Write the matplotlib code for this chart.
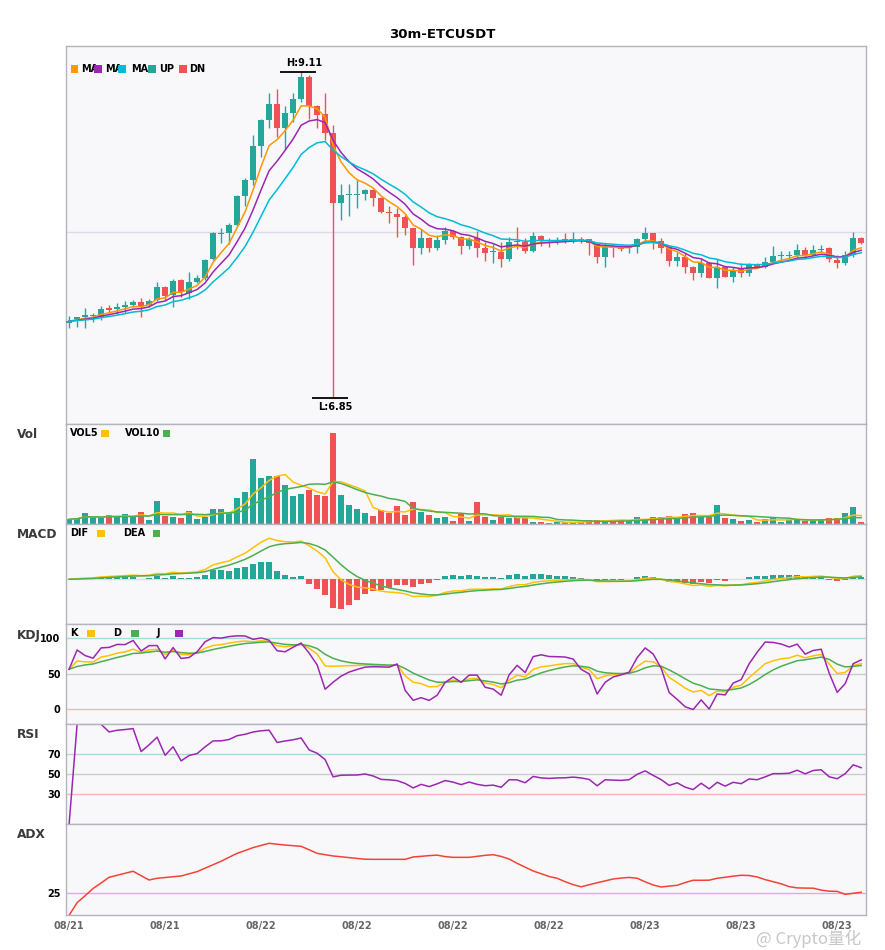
import numpy as np
import pandas as pd
import matplotlib
matplotlib.use("Agg")
import matplotlib.pyplot as plt
from matplotlib.patches import Rectangle

plt.rcParams['font.family'] = ['DejaVu Sans']

# 30m candles
opens = [7.372, 7.397, 7.408, 7.415, 7.413, 7.471, 7.464, 7.480, 7.494, 7.512,
         7.494, 7.529, 7.617, 7.563, 7.667, 7.575, 7.653, 7.679, 7.811, 7.989,
         7.996, 8.051, 8.252, 8.361, 8.597, 8.777, 8.888, 8.724, 8.828, 8.920,
         9.073, 8.874, 8.818, 8.685, 8.204, 8.258, 8.258, 8.264, 8.292, 8.238,
         8.139, 8.125, 8.107, 8.030, 7.892, 7.961, 7.892, 7.945, 8.009, 7.968,
         7.903, 7.956, 7.892, 7.862, 7.864, 7.815, 7.936, 7.929, 7.871, 7.973,
         7.945, 7.936, 7.954, 7.945, 7.952, 7.949, 7.917, 7.825, 7.899, 7.892,
         7.887, 7.899, 7.950, 7.991, 7.940, 7.887, 7.802, 7.829, 7.760, 7.718,
         7.783, 7.684, 7.760, 7.691, 7.742, 7.714, 7.776, 7.760, 7.792, 7.832,
         7.836, 7.838, 7.876, 7.841, 7.876, 7.889, 7.806, 7.788, 7.841, 7.956]
highs = [7.418, 7.413, 7.471, 7.441, 7.487, 7.494, 7.506, 7.524, 7.529, 7.543,
         7.538, 7.654, 7.626, 7.672, 7.672, 7.723, 7.702, 7.811, 8.003, 8.026,
         8.060, 8.259, 8.372, 8.673, 8.782, 8.962, 8.990, 8.874, 8.962, 9.110,
         9.089, 8.880, 8.962, 8.742, 8.333, 8.333, 8.361, 8.298, 8.298, 8.245,
         8.181, 8.164, 8.116, 8.030, 8.019, 7.968, 7.979, 8.037, 8.014, 7.973,
         7.968, 8.009, 7.933, 7.917, 7.933, 7.968, 8.037, 7.956, 8.003, 7.979,
         7.956, 7.968, 7.996, 8.003, 7.968, 7.954, 7.922, 7.922, 7.910, 7.910,
         7.903, 7.957, 8.037, 7.993, 7.957, 7.892, 7.864, 7.852, 7.765, 7.811,
         7.795, 7.811, 7.765, 7.760, 7.788, 7.783, 7.783, 7.829, 7.903, 7.871,
         7.871, 7.917, 7.899, 7.910, 7.910, 7.894, 7.841, 7.871, 8.003, 7.968]
lows = [7.335, 7.339, 7.332, 7.378, 7.390, 7.436, 7.432, 7.436, 7.478, 7.413,
        7.482, 7.524, 7.529, 7.482, 7.552, 7.533, 7.649, 7.667, 7.806, 7.922,
        7.917, 8.042, 8.183, 8.326, 8.523, 8.719, 8.661, 8.573, 8.765, 8.904,
        8.782, 8.722, 8.638, 6.850, 8.084, 8.111, 8.164, 8.223, 8.181, 8.130,
        8.060, 7.968, 7.979, 7.771, 7.848, 7.862, 7.875, 7.917, 7.949, 7.848,
        7.880, 7.829, 7.801, 7.788, 7.755, 7.801, 7.880, 7.852, 7.864, 7.903,
        7.899, 7.917, 7.926, 7.926, 7.926, 7.841, 7.788, 7.760, 7.829, 7.871,
        7.857, 7.857, 7.940, 7.883, 7.852, 7.765, 7.765, 7.714, 7.667, 7.686,
        7.679, 7.614, 7.686, 7.656, 7.691, 7.695, 7.748, 7.748, 7.783, 7.806,
        7.811, 7.825, 7.829, 7.834, 7.864, 7.795, 7.748, 7.772, 7.829, 7.917]
closes = [7.382, 7.411, 7.422, 7.424, 7.468, 7.462, 7.482, 7.494, 7.515, 7.482,
          7.524, 7.617, 7.556, 7.660, 7.582, 7.651, 7.679, 7.806, 7.991, 7.993,
          8.049, 8.250, 8.361, 8.597, 8.777, 8.888, 8.724, 8.828, 8.920, 9.073,
          8.874, 8.812, 8.684, 8.204, 8.257, 8.262, 8.264, 8.292, 8.238, 8.141,
          8.130, 8.107, 8.030, 7.892, 7.961, 7.892, 7.945, 8.009, 7.968, 7.903,
          7.949, 7.892, 7.857, 7.866, 7.815, 7.933, 7.929, 7.871, 7.973, 7.945,
          7.936, 7.943, 7.945, 7.954, 7.942, 7.922, 7.825, 7.894, 7.889, 7.885,
          7.892, 7.950, 7.991, 7.940, 7.887, 7.802, 7.829, 7.760, 7.718, 7.783,
          7.684, 7.760, 7.691, 7.737, 7.714, 7.772, 7.760, 7.795, 7.836, 7.836,
          7.841, 7.876, 7.838, 7.876, 7.885, 7.811, 7.788, 7.841, 7.956, 7.926]
volumes = [5.0, 6.0, 11.0, 7.7, 6.0, 9.3, 7.0, 10.3, 7.7, 12.3,
           4.3, 23.3, 8.3, 7.7, 6.0, 13.3, 5.3, 7.7, 15.3, 15.3,
           12.3, 26.3, 31.7, 65.3, 46.3, 48.3, 47.7, 39.3, 28.3, 30.3,
           34.3, 29.3, 28.3, 90.3, 29.3, 19.3, 15.3, 11.3, 8.3, 14.3,
           11.3, 18.3, 9.3, 22.3, 12.3, 9.3, 6.3, 7.3, 3.3, 10.3,
           3.3, 22.3, 7.3, 4.3, 7.7, 6.3, 7.7, 6.7, 2.3, 2.3,
           1.3, 2.3, 2.3, 2.3, 2.3, 4.3, 4.3, 4.3, 4.3, 4.3,
           3.3, 7.3, 5.3, 7.3, 7.3, 8.3, 6.3, 10.3, 11.3, 7.3,
           7.3, 19.3, 6.3, 5.3, 3.3, 4.3, 2.3, 5.3, 7.3, 2.3,
           5.3, 5.3, 3.3, 4.3, 4.3, 6.3, 6.3, 11.3, 17.3, 2.3]
# ADX line as drawn
adx_vals = [0, 13.9, 21.5, 29.5, 35.5, 41.8, 44.0, 46.2, 48.4, 43.5,
            38.8, 40.7, 41.5, 42.4, 43.2, 45.6, 48.0, 51.8, 55.6, 59.4,
            63.8, 68.1, 71.2, 74.4, 76.8, 79.1, 78.1, 77.2, 76.5, 75.8,
            72.0, 68.1, 66.6, 65.2, 64.3, 63.4, 62.5, 61.6, 61.5, 61.5,
            61.5, 61.5, 61.5, 64.1, 64.8, 65.6, 66.1, 64.5, 63.7, 63.7,
            63.7, 64.8, 65.9, 66.6, 64.7, 61.8, 57.1, 52.9, 48.7, 45.7,
            42.6, 40.7, 36.9, 33.7, 31.3, 33.6, 35.8, 37.8, 39.9, 40.9,
            41.6, 40.7, 36.8, 33.3, 31.1, 32.1, 33.0, 36.0, 38.5, 38.5,
            38.6, 40.7, 41.8, 43.0, 44.0, 43.7, 42.1, 39.2, 36.9, 34.6,
            31.5, 30.1, 29.9, 29.8, 27.7, 26.5, 26.3, 23.0, 24.2, 25.3]

tick_pos = [0, 12, 24, 36, 48, 60, 72, 84, 96]
tick_labels = ["08/21", "08/21", "08/22", "08/22", "08/22", "08/22", "08/23", "08/23", "08/23"]

UP = "#26a69a"
DN = "#ef5350"

df = pd.DataFrame({"open": opens, "high": highs, "low": lows, "close": closes, "vol": volumes})
x = np.arange(len(df))
c = df["close"]

# indicators
ma_a = c.ewm(span=5, adjust=False).mean()
ma_b = c.ewm(span=8, adjust=False).mean()
ma_c = c.ewm(span=13, adjust=False).mean()
vol5 = df["vol"].rolling(5, min_periods=1).mean()
vol10 = df["vol"].rolling(10, min_periods=1).mean()

dif = c.ewm(span=6, adjust=False).mean() - c.ewm(span=13, adjust=False).mean()
dea = dif.ewm(span=5, adjust=False).mean()
hist = 2 * (dif - dea)

ln = df["low"].rolling(9, min_periods=1).min()
hn = df["high"].rolling(9, min_periods=1).max()
rsv = (c - ln) / (hn - ln) * 100
k = rsv.ewm(com=2, adjust=False).mean()
d = k.ewm(com=2, adjust=False).mean()
j = 3 * k - 2 * d

delta = c.diff()
ag = delta.clip(lower=0).ewm(com=13).mean()
al = (-delta).clip(lower=0).ewm(com=13).mean()
rsi = (100 * ag / (ag + al)).fillna(0)

up = df["close"] >= df["open"]
colors = [UP if u else DN for u in up]

W, H = 885, 950
fig = plt.figure(figsize=(W / 100, H / 100), dpi=100)

def fx(px):
    return px / W

def fy(py):
    return 1 - py / H

left, right = 65.5, 866
rows = [(45.5, 424.3), (424.3, 524.3), (524.3, 624.3), (624.3, 724.3), (724.3, 824.3), (824.3, 915.3)]
axes = []
for top, bot in rows:
    a = fig.add_axes([fx(left), fy(bot), fx(right - left), (bot - top) / H],
                     sharex=axes[0] if axes else None)
    a.set_facecolor("#f8f8fb")
    for s in a.spines.values():
        s.set_color("#b4b4bc")
        s.set_linewidth(1)
    a.tick_params(length=0, labelsize=7)
    axes.append(a)
ax, axv, axm, axk, axr, axa = axes

# main candles
body_lo = np.minimum(df["open"], df["close"])
body_h = np.maximum((df["close"] - df["open"]).abs(), 0.006)
ax.vlines(x, df["low"], df["high"], colors=colors, linewidth=1, zorder=2)
ax.bar(x, body_h, 0.75, bottom=body_lo, color=colors, zorder=3)
ax.plot(x, ma_a, color="#ff9800", lw=1.1, zorder=4)
ax.plot(x, ma_b, color="#9c27b0", lw=1.1, zorder=4)
ax.plot(x, ma_c, color="#00bcd4", lw=1.1, zorder=4)
lo, hi = df["low"].min(), df["high"].max()
pad = 0.081 * (hi - lo)
ax.set_ylim(lo - pad, hi + pad)
ax.set_yticks([8.0])
ax.set_yticklabels([])
ax.grid(axis="y", color="#dcdce6", lw=1)
ax.set_axisbelow(True)

ih, il = int(df["high"].idxmax()), int(df["low"].idxmin())
ax.hlines(hi, ih - 2.6, ih + 1.9, color="black", lw=1.3, zorder=5)
ax.annotate(f"H:{hi:.2f}", (ih + 0.4, hi), xytext=(0, 3), textcoords="offset points",
            ha="center", va="bottom", fontsize=7, fontweight="bold")
ax.hlines(lo, il - 2.6, il + 1.8, color="black", lw=1.3, zorder=5)
ax.annotate(f"L:{lo:.2f}", (il + 0.3, lo), xytext=(0, -3), textcoords="offset points",
            ha="center", va="top", fontsize=7, fontweight="bold")

# volume
axv.bar(x, df["vol"], 0.75, color=colors)
axv.plot(x, vol5, color="#ffc107", lw=1.1)
axv.plot(x, vol10, color="#4caf50", lw=1.1)
axv.set_ylim(0, df["vol"].max() * 1.1)
axv.set_yticks([])

# macd
hcol = [UP if v >= 0 else DN for v in hist]
axm.axhline(0, color="#dddddd", lw=1, zorder=0)
axm.bar(x, hist, 0.75, color=hcol)
axm.plot(x, dif, color="#ffc107", lw=1.1)
axm.plot(x, dea, color="#4caf50", lw=1.1)
mtop = dif.max()
axm.set_ylim(-1.1 * mtop, 1.34 * mtop)
axm.set_yticks([])

# kdj
for lvl, lc in [(100, "#a8dcd4"), (50, "#cccccc"), (0, "#ffb4b4")]:
    axk.axhline(lvl, color=lc, lw=1, zorder=0)
axk.plot(x, k, color="#ffc107", lw=1.1)
axk.plot(x, d, color="#4caf50", lw=1.1)
axk.plot(x, j, color="#9c27b0", lw=1.1)
axk.set_ylim(-21, 120)
axk.set_yticks([0, 50, 100])

# rsi
for lvl, lc in [(70, "#a8dcd4"), (50, "#cccccc"), (30, "#ffb4b4")]:
    axr.axhline(lvl, color=lc, lw=1, zorder=0)
axr.plot(x, rsi, color="#9c27b0", lw=1.1)
axr.set_ylim(0, 100)
axr.set_yticks([30, 50, 70])

# adx
axa.axhline(25, color="#dfa8e6", lw=1, zorder=0)
axa.plot(x, adx_vals, color="#f44336", lw=1.1)
axa.set_ylim(0, 100)
axa.set_yticks([25])

for a in (axk, axr, axa):
    for t in a.get_yticklabels():
        t.set_fontweight("bold")
        t.set_fontsize(7)

for a in axes[:-1]:
    a.tick_params(labelbottom=False)
axa.set_xticks(tick_pos)
axa.set_xticklabels(tick_labels, fontsize=7, fontweight="bold", color="#666666")
axa.tick_params(axis="x", pad=4)
axa.set_xlim(-0.45, 99.6)

# titles and legends (figure pixel coords)
fig.text(0.5, fy(34), "30m-ETCUSDT", ha="center", va="center", fontsize=9.5, fontweight="bold")
for name, py in [("Vol", 435), ("MACD", 535), ("KDJ", 635), ("RSI", 735), ("ADX", 835)]:
    fig.text(fx(17), fy(py), name, ha="left", va="center", fontsize=8.7,
             fontweight="bold", color="#3a3a3a")

def square(px, py, col, size=7.5):
    fig.add_artist(Rectangle((fx(px), fy(py + size / 2)), size / W, size / H,
                             transform=fig.transFigure, facecolor=col, edgecolor="none", zorder=11))

def label(px, py, s):
    fig.text(fx(px), fy(py), s, ha="left", va="center", fontsize=7,
             fontweight="bold", color="black", zorder=10)

for sx, tx, col, s in [(70.7, 80.7, "#ff9800", "MA"), (94, 105, "#9c27b0", "MA"),
                       (118.3, 130.7, "#00bcd4", "MA"), (148.3, 159, UP, "UP"),
                       (179.3, 189.3, DN, "DN")]:
    label(tx, 69, s)
    square(sx, 69, col)

for tx, sx, col, s in [(70, 101, "#ffc107", "VOL5"), (125, 162.7, "#4caf50", "VOL10")]:
    label(tx, 433.5, s)
    square(sx, 433.5, col)
for tx, sx, col, s in [(70, 97, "#ffc107", "DIF"), (123, 152.7, "#4caf50", "DEA")]:
    label(tx, 533.5, s)
    square(sx, 533.5, col)
for tx, sx, col, s in [(70, 87, "#ffc107", "K"), (113, 131, "#4caf50", "D"), (157, 175, "#9c27b0", "J")]:
    label(tx, 633.5, s)
    square(sx, 633.5, col)

# watermark, kept just under the date labels
fig.text(fx(756), fy(939), "@ Crypto量化", ha="left", va="center", fontsize=12,
         color="#bdbdbd", alpha=0.85, family=["Noto Sans CJK SC", "DejaVu Sans"], zorder=12)

fig.savefig("out.png", dpi=100)
